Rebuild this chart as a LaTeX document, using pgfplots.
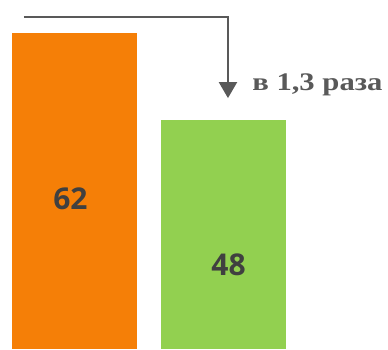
\documentclass[border=0pt]{standalone}
\usepackage{fontspec}
\setmainfont{Liberation Serif}
\newfontfamily\numfont{Open Sans}
\usepackage{pgfplots}
\pgfplotsset{compat=1.18}
\usetikzlibrary{arrows.meta}
\definecolor{barorange}{HTML}{F57F07}
\definecolor{bargreen}{HTML}{92D050}
\definecolor{txtgray}{HTML}{595959}
\definecolor{lblgray}{HTML}{404040}
\begin{document}
\begin{tikzpicture}
\begin{axis}[
  scale only axis,
  width=291pt, height=261.75pt,
  xmin=-0.5, xmax=2.104,
  ymin=11.1, ymax=67.3,
  axis lines=none,
  ticks=none,
  enlargelimits=false,
  clip=true,
  ybar, bar width=93.75pt, bar shift=0pt,
]
\path (rel axis cs:0,0) rectangle (rel axis cs:1,1);
\addplot[fill=barorange, draw=none] coordinates {(0,62)};
\addplot[fill=bargreen, draw=none] coordinates {(1,48)};
\node[font=\numfont\bfseries\fontsize{22.5}{24}\selectfont, text=lblgray] at (axis cs:-0.027,35.35) {62};
\node[font=\numfont\bfseries\fontsize{22.5}{24}\selectfont, text=lblgray] at (axis cs:1.034,24.72) {48};
\draw[txtgray, line width=1.6pt, -{Stealth[length=12pt,width=13.5pt,inset=0pt]}]
  (axis cs:-0.339,64.57) -- (axis cs:1.030,64.57) -- (axis cs:1.030,51.5);
\node[anchor=base west, inner sep=0pt, xscale=1.21, font=\bfseries\fontsize{19}{22}\selectfont, text=txtgray] at (axis cs:1.191,52.66) {в 1,3 раза};
\end{axis}
\end{tikzpicture}
\end{document}
